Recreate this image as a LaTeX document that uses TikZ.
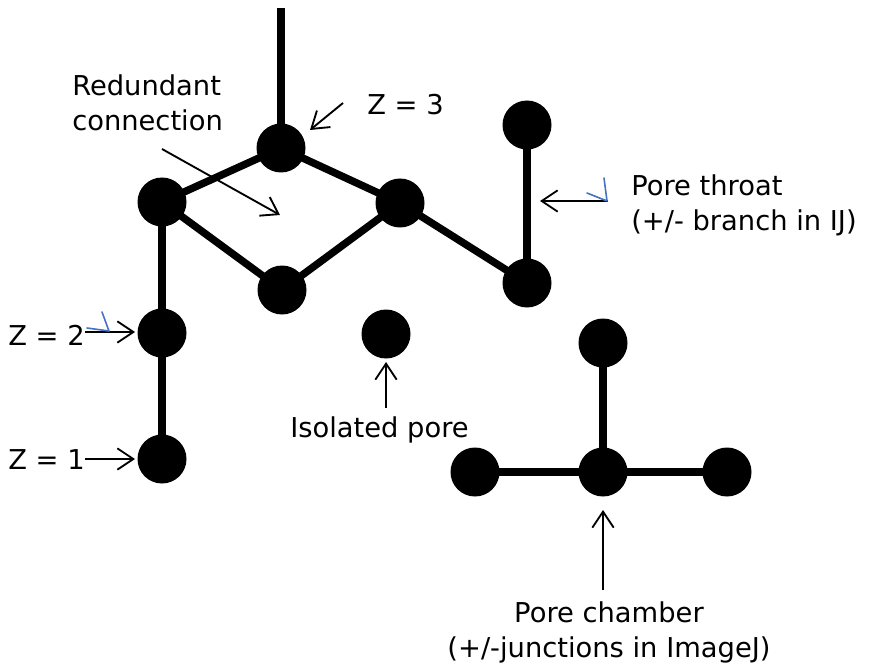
\documentclass[tikz,border=0pt]{standalone}
\usepackage{fontspec}
\setmainfont{DejaVu Sans}
\usetikzlibrary{arrows.meta}
\definecolor{markblue}{RGB}{68,114,196}
\begin{document}
\begin{tikzpicture}[x=0.75pt,y=-0.75pt,
  pore/.style={circle,fill=black,minimum size=36.75pt,inner sep=0pt},
  throat/.style={line width=5.6pt},
  pointer/.style={line width=1.4pt,-{Straight Barb[length=12pt,width=16pt,line width=1.4pt]}},
  txt/.style={font=\fontsize{20.5}{26.25}\selectfont,inner sep=0pt},
  tick/.style={draw=markblue,line width=1.2pt,line cap=round,line join=round}]
\useasboundingbox (0,0) rectangle (869,667);

% pores of the connected network
\node[pore] (A) at (281,148) {};
\node[pore] (B) at (162,202) {};
\node[pore] (C) at (400,203) {};
\node[pore] (D) at (282,290) {};
\node[pore] (E) at (527,125) {};
\node[pore] (F) at (527,283) {};
\node[pore] (G) at (162,333) {};
\node[pore] (H) at (162,459) {};
% isolated pore
\node[pore] (I) at (386,334) {};
% pore chamber with three branches
\node[pore] (J) at (603,343) {};
\node[pore] (K) at (603,472) {};
\node[pore] (L) at (475,472) {};
\node[pore] (M) at (727,472) {};

% throats, run centre to centre so they merge cleanly into the pores
\coordinate (top) at (281,8);
\draw[throat] (top) -- (A.center);
\draw[throat] (A.center) -- (B.center);
\draw[throat] (A.center) -- (C.center);
\draw[throat] (B.center) -- (D.center);
\draw[throat] (D.center) -- (C.center);
\draw[throat] (C.center) -- (F.center);
\draw[throat] (E.center) -- (F.center);
\draw[throat] (B.center) -- (G.center);
\draw[throat] (G.center) -- (H.center);
\draw[throat] (J.center) -- (K.center);
\draw[throat] (L.center) -- (K.center);
\draw[throat] (K.center) -- (M.center);

% labels (multi-line nodes are placed by the baseline of their last line)
\node[txt,anchor=base west,align=left] (red) at (72,131) {Redundant\\connection};
\node[txt,anchor=base west] (z3) at (367,115) {Z = 3};
\node[txt,anchor=base west,align=left] (thr) at (631,230) {Pore throat\\(+/- branch in IJ)};
\node[txt,anchor=base west] (z2) at (8,345) {Z = 2};
\node[txt,anchor=base west] (z1) at (8,469) {Z = 1};
\node[txt,anchor=base west] (iso) at (290,437) {Isolated pore};
\node[txt,anchor=base,align=center] (cham) at (609,657) {Pore chamber\\(+/-junctions in ImageJ)};

% pointers
\coordinate (redT) at (162,149);  \coordinate (redH) at (280,215);
\coordinate (z3T) at (343,103);   \coordinate (z3H) at (310,130);
\coordinate (thrT) at (608,201);  \coordinate (thrH) at (540,201);
\coordinate (z2T) at (85,332);    \coordinate (z2H) at (135,332);
\coordinate (z1T) at (85,459);    \coordinate (z1H) at (135,459);
\coordinate (isoT) at (386,408);  \coordinate (isoH) at (386,362);
\coordinate (chT) at (603,590);   \coordinate (chH) at (603,510);
\draw[pointer] (redT) -- (redH);
\draw[pointer] (z3T) -- (z3H);
\draw[pointer] (thrT) -- (thrH);
\draw[pointer] (z2T) -- (z2H);
\draw[pointer] (z1T) -- (z1H);
\draw[pointer] (isoT) -- (isoH);
\draw[pointer] (chT) -- (chH);

% small blue pen marks
\draw[tick] (87,328) -- (109,331) -- (102,312);
\draw[tick] (587,193) -- (607,201) -- (604,178);
\end{tikzpicture}
\end{document}
